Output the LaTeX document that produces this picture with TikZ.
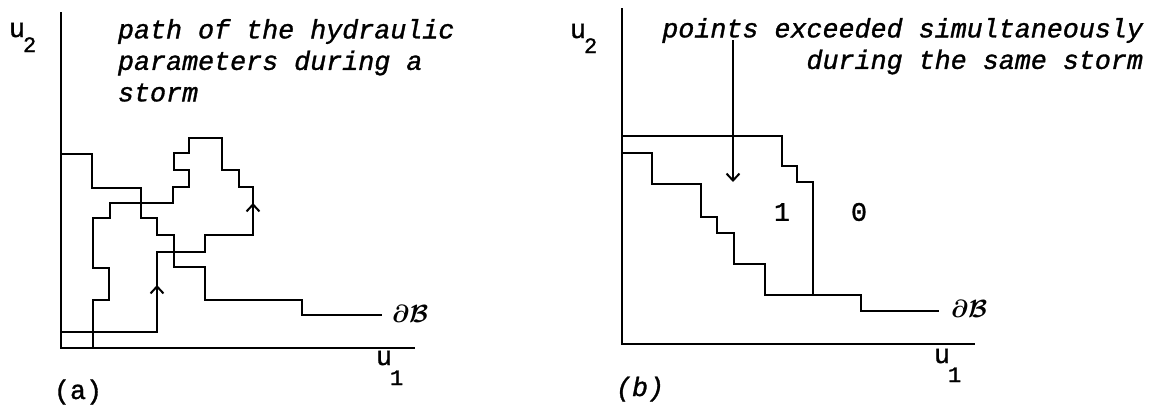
\documentclass[tikz,border=0pt]{standalone}
\usepackage{fontspec}
\usepackage{bm}
\setmonofont{Liberation Mono}[FakeBold=1.2]
\usetikzlibrary{arrows.meta}
\newcommand{\uidx}[2]{u\kern-2pt\raisebox{#2}{\fontsize{22}{22}\selectfont #1}}
\tikzset{
  note/.style={font=\fontsize{26.7}{31.5}\selectfont\ttfamily\itshape, inner sep=0pt},
  lbl/.style={font=\fontsize{26.7}{31.5}\selectfont\ttfamily, inner sep=0pt},
  tip/.style={-{Straight Barb[length=7pt,width=13pt]}},
}

\begin{document}
\begin{tikzpicture}[x=10pt, y=-10pt, line width=2pt]
  \useasboundingbox (0,0) rectangle (115.1,40.7);
  % (a) axes
  \draw (6.1,1.2) -- (6.1,34.8) -- (41.5,34.8);
  \node[lbl, anchor=base west] (u2a) at (0.8,3.7) {\uidx{2}{-15pt}};
  \node[lbl, anchor=base west] (u1a) at (37.5,36.5) {\uidx{1}{-20pt}};
  % (a) boundary
  \draw (6.1,15.4) -| (9.2,18.8) -| (14.1,21.8) -| (15.7,23.5) -| (17.4,26.7)
    -| (20.5,30.0) -| (30.2,31.5) -- (38.2,31.5);
  \node[lbl, anchor=base west] (dBa) at (39.1,32.2) {$\bm{\partial\mathcal{B}}$};
  % (a) storm path
  \draw (6.1,33.2) -| (15.7,25.2) -| (20.5,23.5) -| (25.3,18.7) -| (23.9,17.0)
    -| (22.2,13.8) -| (18.9,15.3) -| (17.4,17.0) -| (18.9,18.7) -| (17.3,20.3)
    -| (11.0,21.8) -| (9.3,26.8) -| (10.9,30.0) -| (9.3,34.8);
  \draw[tip] (15.7,29.6) -- (15.7,28.5);
  \draw[tip] (25.3,21.2) -- (25.3,20.3);
  \node[note, anchor=north west, align=left] (pathtxt) at (11.7,1.8)
    {path of the hydraulic\\parameters during a\\storm};
  \node[lbl, anchor=base west] (capa) at (5.3,39.9) {(a)};
  % (b) axes
  \draw (62.2,0.8) -- (62.2,34.4) -- (97.5,34.4);
  \node[lbl, anchor=base west] (u2b) at (56.9,3.8) {\uidx{2}{-15pt}};
  \node[lbl, anchor=base west] (u1b) at (93.3,36.3) {\uidx{1}{-19pt}};
  % (b) exceedance border and boundary
  \draw (62.2,13.6) -| (78.2,16.6) -| (79.7,18.2) -| (81.3,29.5);
  \draw (62.2,15.3) -| (65.2,18.4) -| (70.1,21.7) -| (71.7,23.3) -| (73.4,26.4)
    -| (76.5,29.5) -| (86.1,31.1) -- (93.9,31.1);
  \node[lbl, anchor=base west] (dBb) at (95.0,31.7) {$\bm{\partial\mathcal{B}}$};
  \node[lbl] (one) at (78.2,21.2) {1};
  \node[lbl] (zero) at (85.9,21.2) {0};
  \node[note, anchor=north east, align=right] (ptstxt) at (114.4,1.7)
    {points exceeded simultaneously\\during the same storm};
  \coordinate (arrtop) at (73.3,4.0);
  \draw[tip] (arrtop) -- (73.3,18.2);
  \node[note, anchor=base west] (capb) at (61.5,39.6) {(b)};
\end{tikzpicture}
\end{document}
